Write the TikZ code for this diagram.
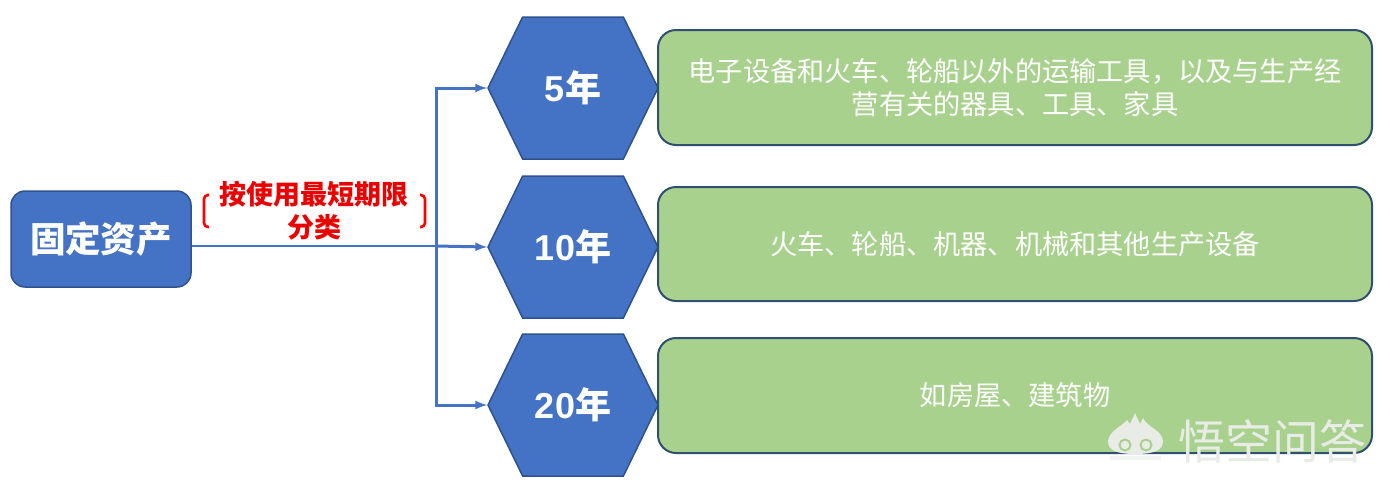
\documentclass[tikz,border=0pt]{standalone}
\usepackage{fontspec}
\setmainfont{Liberation Sans}
\newfontfamily\cjk{Noto Sans CJK SC}
\usetikzlibrary{shapes.symbols}
\definecolor{bluefill}{HTML}{4472C4}
\definecolor{blueline}{HTML}{2F528F}
\definecolor{greenfill}{HTML}{A9D18E}
\definecolor{greenline}{HTML}{2F5070}
\definecolor{markgray}{HTML}{E9ECE6}
\tikzset{
  rootbox/.style={draw=blueline, line width=1.5pt, fill=bluefill, rounded corners=14pt, minimum width=180pt, minimum height=96pt, text=white, font=\cjk\bfseries\fontsize{35.5}{40}\selectfont},
  hexbox/.style={signal, signal to=west and east, signal pointer angle=128, draw=blueline, line width=1.5pt, fill=bluefill, minimum width=170pt, minimum height=142pt, inner sep=0pt, text=white, font=\fontsize{36}{40}\selectfont\bfseries},
  greenbox/.style={draw=greenline, line width=2pt, fill=greenfill, rounded corners=18pt, minimum width=714pt, text width=670pt, align=center, text=white, font=\cjk\fontsize{27.2}{33.5}\selectfont},
  branch/.style={draw=bluefill, line width=3pt, -latex},
  redbrk/.style={draw=red, line width=2.6pt, rounded corners=4pt}
}
\begin{document}
\begin{tikzpicture}[x=1pt, y=-1pt]
  \useasboundingbox (0,0) rectangle (1390,491);

  \node[rootbox] (root) at (101,239) {固定资产};
  \node[text=red!92!black, align=center, font=\cjk\bfseries\fontsize{27}{33}\selectfont] (rule) at (314,211) {按使用最短期限\\分类};

  \foreach \nm/\y/\lab in {five/88/5, ten/247/10, twenty/405/20}
    \node[hexbox] (\nm) at (573,\y) {\lab{\cjk 年}};

  \node[greenbox, minimum height=115pt] (goods) at (1015,87.5) {电子设备和火车、轮船以外的运输工具，以及与生产经\\营有关的器具、工具、家具};
  \node[greenbox, minimum height=114pt] (plant) at (1015,244) {火车、轮船、机器、机械和其他生产设备};
  \node[greenbox, minimum height=115pt] (house) at (1015,395.5) {如房屋、建筑物};

  \coordinate (fork) at (436,246);
  \draw[draw=bluefill, line width=2pt] (root.east |- fork) -- (fork);
  \draw[branch] (fork) |- (five.west);
  \draw[branch] (fork) -- (ten.west);
  \draw[branch] (fork) |- (twenty.west);

  \draw[redbrk] (209,195) -- (204,195) -- (204,227) -- (209,227);
  \draw[redbrk] (420,195) -- (425,195) -- (425,227) -- (420,227);

  % watermark
  \fill[markgray] (1108,441) .. controls (1110,430) and (1120,428) .. (1127,420)
    -- (1130,424) -- (1135,413) -- (1140,424) -- (1143,418)
    .. controls (1148,428) and (1162,430) .. (1163,441)
    .. controls (1163,450) and (1155,454) .. (1135,454)
    .. controls (1116,454) and (1108,450) .. (1108,441) -- cycle;
  \draw[greenfill, line width=2pt] (1125,445) circle (5.5pt) (1146,445) circle (5.5pt);
  \fill[markgray, opacity=.6] (1110,456) rectangle (1161,460);
  \node[text=markgray, font=\cjk\fontsize{47}{50}\selectfont, inner sep=0pt] (mark) at (1272,442) {悟空问答};
\end{tikzpicture}
\end{document}
